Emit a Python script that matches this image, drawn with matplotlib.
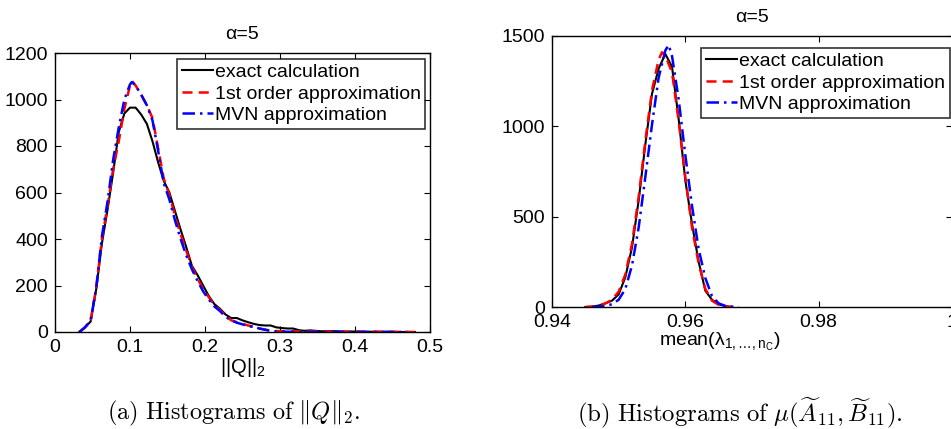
import numpy as np
import matplotlib
matplotlib.use("Agg")
import matplotlib.pyplot as plt

plt.rcParams['font.family'] = ['Liberation Sans', 'DejaVu Sans']
plt.rcParams['mathtext.fontset'] = 'custom'
plt.rcParams['mathtext.rm'] = 'Liberation Sans'
plt.rcParams['mathtext.it'] = 'Liberation Sans:italic'
plt.rcParams['mathtext.sf'] = 'Liberation Sans'

labels = ["exact calculation", "1st order approximation", "MVN approximation"]

# (a) histogram of ||Q||_2
q_exact_x = [0.0325, 0.04, 0.0475, 0.055, 0.0625, 0.07, 0.0775, 0.085, 0.0925, 0.1, 0.1075,
             0.115, 0.1225, 0.13, 0.1375, 0.145, 0.1525, 0.16, 0.1675, 0.175, 0.1825, 0.19,
             0.1975, 0.205, 0.2125, 0.22, 0.2275, 0.235, 0.2425, 0.25, 0.2575, 0.265, 0.2725,
             0.28, 0.2875, 0.295, 0.3025, 0.31, 0.3175, 0.325, 0.3325, 0.34, 0.355, 0.37,
             0.385, 0.4, 0.42, 0.44, 0.46, 0.48]
q_exact_y = [0, 20, 45, 185, 380, 525, 685, 860, 940, 965, 965,
             935, 895, 820, 730, 650, 600, 520, 440, 365, 285, 245,
             200, 155, 120, 100, 75, 60, 60, 50, 42, 35, 30,
             28, 28, 20, 17, 15, 15, 8, 5, 7, 3, 4,
             2, 2, 1, 1, 0, 0]
q_first_x = [0.0325, 0.04, 0.0475, 0.055, 0.0625, 0.07, 0.0775, 0.085, 0.0925, 0.1, 0.1025,
             0.1075, 0.115, 0.1225, 0.13, 0.1375, 0.145, 0.1525, 0.16, 0.1675, 0.175, 0.1825,
             0.19, 0.1975, 0.205, 0.2125, 0.22, 0.2275, 0.235, 0.2425, 0.25, 0.2575, 0.265,
             0.2725, 0.28, 0.2875, 0.295, 0.31, 0.33, 0.35, 0.4, 0.45, 0.48]
q_first_y = [0, 20, 50, 190, 400, 540, 700, 820, 960, 1060, 1080,
             1060, 1020, 975, 920, 790, 660, 590, 500, 420, 350, 280,
             230, 185, 150, 115, 95, 70, 50, 42, 35, 28, 22,
             15, 10, 6, 4, 3, 3, 2, 1, 1, 0]
q_mvn_x = [0.0325, 0.04, 0.0475, 0.055, 0.0625, 0.07, 0.0775, 0.085, 0.0925, 0.1, 0.1025,
           0.1075, 0.115, 0.1225, 0.13, 0.1375, 0.145, 0.1525, 0.16, 0.1675, 0.175, 0.1825,
           0.19, 0.1975, 0.205, 0.2125, 0.22, 0.2275, 0.235, 0.2425, 0.25, 0.2575, 0.265,
           0.2725, 0.28, 0.2875, 0.295, 0.31, 0.33, 0.4, 0.47]
q_mvn_y = [0, 20, 50, 190, 410, 560, 740, 880, 1000, 1065, 1075,
           1060, 1020, 975, 910, 780, 640, 570, 480, 400, 330, 270,
           220, 175, 140, 110, 90, 65, 50, 40, 33, 25, 22,
           15, 10, 5, 2, 1, 0, 0, 0]

# (b) histogram of mean(lambda)
m_exact_x = [0.945, 0.946, 0.947, 0.948, 0.949, 0.950, 0.951, 0.952, 0.953, 0.954, 0.955, 0.956,
             0.957, 0.958, 0.959, 0.960, 0.961, 0.962, 0.963, 0.964, 0.965, 0.966, 0.967]
m_exact_y = [0, 2, 8, 20, 35, 70, 165, 330, 590, 900, 1180, 1320,
             1400, 1330, 1040, 700, 460, 250, 90, 40, 15, 5, 0]
m_first_x = [0.945, 0.946, 0.947, 0.948, 0.949, 0.950, 0.951, 0.952, 0.953, 0.954, 0.955, 0.956,
             0.9565, 0.957, 0.958, 0.959, 0.960, 0.961, 0.962, 0.963, 0.964, 0.965, 0.966, 0.967]
m_first_y = [0, 2, 8, 20, 40, 85, 180, 350, 610, 920, 1200, 1370,
             1410, 1390, 1300, 1030, 720, 440, 240, 100, 35, 12, 4, 0]
m_mvn_x = [0.946, 0.947, 0.948, 0.949, 0.950, 0.951, 0.952, 0.953, 0.954, 0.955, 0.956, 0.957,
           0.9575, 0.958, 0.959, 0.960, 0.961, 0.962, 0.963, 0.964, 0.965, 0.966, 0.967, 0.968]
m_mvn_y = [0, 2, 6, 15, 40, 100, 230, 440, 720, 1010, 1270, 1420,
           1450, 1390, 1150, 840, 560, 320, 160, 60, 20, 6, 2, 0]

fig = plt.figure(figsize=(9.51, 4.29), dpi=100)
ax1 = fig.add_axes([55/951, 97/429, 375/951, 279/429])
ax2 = fig.add_axes([552/951, 122/429, 400/951, 271/429])


def style(ax):
    ax.tick_params(direction='in', top=True, right=True, length=4, width=0.8,
                   labelsize=14, pad=5)
    for s in ax.spines.values():
        s.set_linewidth(1.0)
    ax.set_title("α=5", fontsize=14, pad=10)


def add_legend(ax, anchor):
    leg = ax.legend(loc='upper right', bbox_to_anchor=anchor, fontsize=14, frameon=True,
                    fancybox=False, edgecolor='black', handlelength=1.6, handletextpad=0.1,
                    labelspacing=0.2, borderpad=0.25, borderaxespad=0)
    leg.get_frame().set_linewidth(1.2)


ax1.plot(q_exact_x, q_exact_y, color='black', lw=1.5, label=labels[0])
ax1.plot(q_first_x, q_first_y, color='red', lw=1.8, ls=(0, (4, 2.5)), label=labels[1])
ax1.plot(q_mvn_x, q_mvn_y, color='blue', lw=1.8, ls=(0, (5, 2, 1, 2)), label=labels[2])
ax1.set_xlim(0, 0.5)
ax1.set_ylim(0, 1200)
ax1.set_xticks([0, 0.1, 0.2, 0.3, 0.4, 0.5])
ax1.set_xticklabels(["0", "0.1", "0.2", "0.3", "0.4", "0.5"])
ax1.set_yticks(np.arange(0, 1201, 200))
ax1.set_xlabel(r"||Q||$_\mathrm{2}$", fontsize=14.5, labelpad=0)
style(ax1)
add_legend(ax1, (0.988, 0.98))

ax2.plot(m_exact_x, m_exact_y, color='black', lw=1.5, label=labels[0])
ax2.plot(m_first_x, m_first_y, color='red', lw=1.8, ls=(0, (4, 2.5)), label=labels[1])
ax2.plot(m_mvn_x, m_mvn_y, color='blue', lw=1.8, ls=(0, (5, 2, 1, 2)), label=labels[2])
ax2.set_xlim(0.94, 1.0)
ax2.set_ylim(0, 1500)
ax2.set_xticks([0.94, 0.96, 0.98, 1.0])
ax2.set_xticklabels(["0.94", "0.96", "0.98", "1"])
ax2.set_yticks([0, 500, 1000, 1500])
ax2.set_xlabel(r"mean(λ$_{\mathrm{1,…,n}_{\mathrm{C}}}$)", fontsize=14, labelpad=0)
ax2.xaxis.label.set_x(0.42)
style(ax2)
add_legend(ax2, (0.995, 0.957))

fig.text(233/951, 1 - 413/429, r"$\mathrm{(a)\ Histograms\ of\ }\|Q\|_2.$",
         ha='center', va='center', fontsize=17.5, math_fontfamily='cm')
fig.text(740/951, 1 - 413/429,
         r"$\mathrm{(b)\ Histograms\ of\ }\mu(\widetilde{A}_{11},\widetilde{B}_{11}).$",
         ha='center', va='center', fontsize=17.8, math_fontfamily='cm')

fig.savefig("out.png", dpi=100)
